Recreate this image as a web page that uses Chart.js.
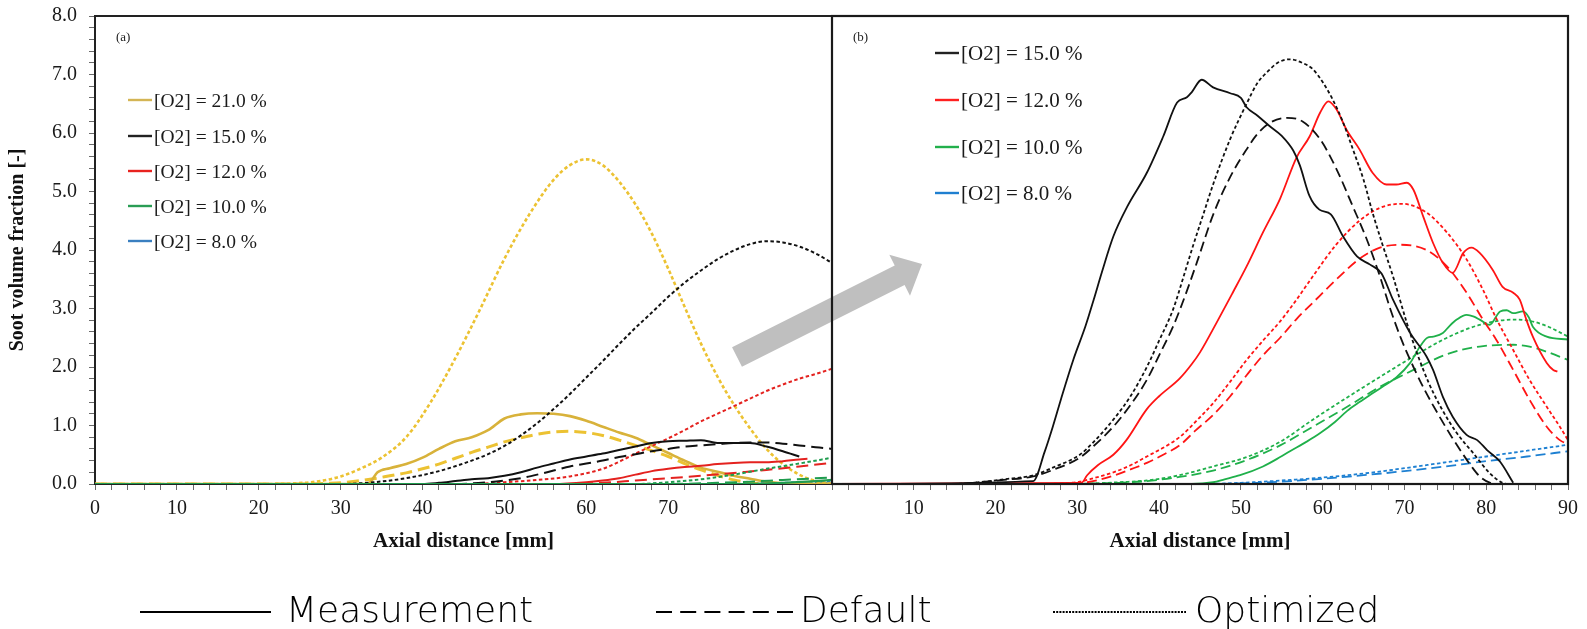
<!DOCTYPE html>
<html>
<head>
<meta charset="utf-8">
<script src="https://cdn.jsdelivr.net/npm/chart.js@4.4.1/dist/chart.umd.min.js"></script>
<style>
  html, body { margin: 0; padding: 0; background: #fff; }
  #wrap { position: relative; width: 1587px; height: 629px; background: #fff; overflow: hidden; }
  #wrap canvas { position: absolute; left: 0; top: 0; }
  #overlay { position: absolute; left: 0; top: 0; }
</style>
</head>
<body>
<div id="wrap">
  <canvas id="chartA" width="1587" height="629"></canvas>
  <canvas id="chartB" width="1587" height="629"></canvas>
  <svg id="overlay" width="1587" height="629" xmlns="http://www.w3.org/2000/svg"></svg>
</div>
<script>
// ---- Axes ----
const xMin = 0, xMax = 90, xStep = 2;       // axial distance [mm]
const yMin = 0, yMax = 8, yStep = 0.2;      // soot volume fraction [-]

// ---- Legend labels ----
const o2LevelsA = ['21.0', '15.0', '12.0', '10.0', '8.0'];
const o2LevelsB = ['15.0', '12.0', '10.0', '8.0'];
const modelKinds = ['Measurement', 'Default', 'Optimized'];

// ---- Panel (a): [axial distance, soot volume fraction] ----
const aGold21Meas = [[0,0],[33,0],[33.6,0.03],[34.5,0.2],[36,0.27],[38,0.34],[40,0.45],[42,0.6],[44,0.73],[46,0.8],[48,0.92],[50,1.12],[52,1.19],[54,1.21],[56,1.2],[58,1.16],[60,1.08],[62,0.98],[64,0.88],[66,0.79],[68,0.66],[70,0.53],[72,0.4],[74,0.28],[76,0.21],[78,0.14],[80,0.09],[82,0.04],[84,0.01],[86,0],[90,0]];
const aGold21Def  = [[0,0],[26,0],[28,0.01],[30,0.02],[32,0.05],[34,0.09],[36,0.14],[38,0.19],[40,0.26],[42,0.34],[44,0.44],[46,0.54],[48,0.63],[50,0.72],[52,0.79],[54,0.85],[56,0.89],[58,0.9],[60,0.88],[62,0.83],[64,0.75],[66,0.66],[68,0.57],[70,0.47],[72,0.35],[74,0.24],[76,0.15],[78,0.07],[80,0.02],[82,0],[90,0]];
const aGold21Opt  = [[0,0],[20,0],[24,0.01],[27,0.04],[30,0.13],[33,0.3],[35,0.45],[38,0.8],[41,1.4],[44,2.15],[47,2.98],[50,3.85],[53,4.6],[56,5.2],[58,5.45],[60,5.55],[62,5.45],[64,5.17],[66,4.78],[68,4.28],[70,3.68],[72,3.03],[74,2.4],[76,1.84],[78,1.36],[80,0.95],[82,0.6],[84,0.34],[86,0.16],[88,0.05],[90,0]];
const aBlack15Meas = [[0,0],[40,0],[42,0.02],[44,0.05],[46,0.08],[48,0.1],[50,0.14],[52,0.2],[54,0.28],[56,0.35],[58,0.42],[60,0.47],[62,0.52],[64,0.58],[66,0.64],[68,0.7],[70,0.73],[72,0.74],[74,0.75],[76,0.7],[78,0.7],[80,0.7],[82,0.64],[84,0.56],[86,0.47]];
const aBlack15Def  = [[0,0],[44,0],[48,0.03],[50,0.06],[52,0.1],[54,0.16],[56,0.23],[58,0.3],[60,0.35],[62,0.4],[64,0.46],[66,0.51],[68,0.56],[70,0.6],[72,0.64],[74,0.66],[76,0.68],[78,0.7],[80,0.71],[82,0.71],[84,0.69],[86,0.66],[88,0.63],[90,0.6]];
const aBlack15Opt  = [[0,0],[30,0],[34,0.03],[38,0.1],[42,0.22],[46,0.4],[48,0.51],[50,0.65],[52,0.83],[54,1.04],[56,1.28],[58,1.54],[60,1.82],[62,2.1],[64,2.39],[66,2.67],[68,2.93],[70,3.2],[72,3.44],[74,3.65],[76,3.84],[78,3.99],[80,4.1],[82,4.15],[84,4.13],[86,4.06],[88,3.94],[90,3.78]];
const aRed12Meas = [[0,0],[56,0],[60,0.03],[62,0.06],[64,0.1],[66,0.16],[68,0.22],[70,0.26],[72,0.29],[74,0.31],[76,0.34],[78,0.36],[80,0.37],[82,0.37],[84,0.39],[86,0.42],[87,0.43]];
const aRed12Def  = [[0,0],[58,0],[62,0.02],[66,0.06],[70,0.1],[74,0.14],[78,0.19],[82,0.24],[86,0.3],[90,0.36]];
const aRed12Opt  = [[0,0],[46,0],[50,0.03],[54,0.07],[58,0.13],[62,0.26],[64,0.38],[66,0.52],[68,0.65],[70,0.78],[72,0.92],[74,1.07],[76,1.2],[78,1.33],[80,1.46],[82,1.59],[84,1.7],[86,1.8],[88,1.88],[90,1.97]];
const aGreen10Meas = [[0,0],[80,0],[84,0.02],[88,0.05],[90,0.07]];
const aGreen10Def  = [[0,0],[70,0],[76,0.02],[80,0.04],[84,0.07],[90,0.11]];
const aGreen10Opt  = [[0,0],[66,0],[70,0.03],[74,0.08],[78,0.16],[82,0.26],[86,0.35],[90,0.45]];
const aBlue8Meas = [[0,0],[90,0]];
const aBlue8Def  = [[0,0],[80,0],[90,0.02]];
const aBlue8Opt  = [[0,0],[75,0],[90,0.04]];

// ---- Panel (b) ----
const bBlack15Meas = [[0,0],[24.6,0.05],[26,0.55],[27,0.98],[28,1.45],[29.5,2.12],[31,2.7],[32,3.15],[33,3.62],[34.4,4.23],[36.1,4.74],[38.5,5.32],[40.5,5.94],[42.2,6.52],[43.4,6.61],[44,6.7],[45.2,6.91],[46.6,6.78],[48.7,6.68],[50,6.6],[50.7,6.44],[52,6.3],[53.5,6.12],[55,5.95],[56.4,5.7],[57.2,5.45],[58.4,4.92],[59.6,4.69],[61,4.61],[62.5,4.23],[64.2,3.89],[65.8,3.75],[67.2,3.6],[68.6,3.15],[70.7,2.58],[72.7,2.18],[73.5,1.95],[74.7,1.49],[75.9,1.15],[77.6,0.84],[78.9,0.75],[80.1,0.58],[81.7,0.38],[83.3,0.02]];
const bBlack15Def  = [[0,0],[15,0],[18,0.03],[21,0.07],[24.6,0.13],[27,0.24],[30.3,0.45],[32,0.65],[34.4,0.98],[36.5,1.35],[38.5,1.78],[40,2.2],[41.7,2.69],[43,3.15],[44.6,3.78],[46.6,4.6],[48.7,5.25],[50.7,5.72],[52,5.98],[53.5,6.17],[55.6,6.26],[57.5,6.2],[59.7,5.89],[61.7,5.38],[63.7,4.74],[65.4,4.18],[67,3.55],[68.3,2.98],[69.6,2.48],[71.1,2.0],[72.5,1.6],[74.3,1.15],[75.8,0.8],[77.2,0.5],[78.2,0.3],[79.2,0.13],[80.5,0.02],[82,0],[90,0]];
const bBlack15Opt  = [[0,0],[15,0],[18,0.03],[21,0.08],[24.6,0.15],[27,0.28],[30.3,0.5],[32,0.72],[34.4,1.1],[36.5,1.5],[38.5,2.0],[40,2.45],[41.7,2.98],[43,3.55],[44.1,4.05],[45.5,4.65],[46.6,5.12],[48.7,5.9],[50.7,6.5],[52,6.85],[53.2,7.04],[54.5,7.2],[56,7.26],[57.5,7.2],[58.8,7.09],[60,6.87],[61.2,6.58],[62.5,6.18],[63.7,5.72],[65,5.2],[66.1,4.64],[67.3,4.1],[68.6,3.55],[70.3,2.75],[71.5,2.25],[73,1.72],[74.5,1.3],[76.4,0.87],[78.4,0.53],[80.4,0.19],[82,0.02],[83,0],[90,0]];
const bRed12Meas = [[0,0],[30.5,0.02],[31.2,0.15],[32.5,0.32],[34.4,0.5],[36,0.75],[38.5,1.28],[40,1.5],[42.5,1.8],[44,2.05],[45,2.25],[47,2.75],[49,3.27],[50.7,3.72],[52.7,4.3],[54.8,4.88],[56.8,5.58],[58.4,5.94],[59.7,6.35],[60.7,6.54],[61.7,6.4],[62.9,6.06],[64.5,5.72],[66.1,5.32],[67.8,5.12],[69,5.12],[70.3,5.15],[71.1,5.03],[72.3,4.57],[73.5,4.12],[74.7,3.78],[75.9,3.61],[77.2,3.95],[78.2,4.04],[79.2,3.95],[80.8,3.66],[82,3.37],[83.3,3.27],[84.1,3.15],[84.9,2.81],[85.7,2.52],[87.4,2.07],[88.2,1.95],[88.7,1.92]];
const bRed12Def  = [[0,0],[26,0],[29,0.01],[31.2,0.03],[34.4,0.14],[36.5,0.25],[38.5,0.36],[40.5,0.5],[42.5,0.66],[44.5,0.92],[46.6,1.18],[48.7,1.5],[50.7,1.86],[52.7,2.2],[54.8,2.5],[56.8,2.82],[58.8,3.1],[61.7,3.5],[64.5,3.85],[67,4.04],[69.4,4.09],[72.7,4.0],[75.2,3.72],[77.6,3.27],[79.6,2.81],[81.3,2.45],[83.3,1.95],[85.3,1.44],[87.4,0.98],[89,0.75],[90,0.68]];
const bRed12Opt  = [[0,0],[25,0],[28,0.01],[30.3,0.04],[32,0.1],[34.4,0.2],[36.5,0.32],[38.5,0.47],[40.5,0.62],[42.5,0.8],[44.5,1.07],[46.6,1.38],[48.7,1.75],[50.7,2.12],[52.7,2.45],[54.8,2.78],[56.8,3.15],[58.8,3.55],[61.7,4.1],[64.5,4.5],[67,4.72],[69.7,4.79],[72.7,4.64],[75.2,4.3],[77.6,3.84],[79.6,3.32],[81.3,2.81],[83.3,2.29],[85.3,1.78],[87.4,1.32],[89,0.98],[90,0.75]];
const bGreen10Meas = [[0,0],[44,0],[46.6,0.03],[48,0.08],[49.9,0.15],[52.7,0.3],[54.8,0.46],[56,0.56],[58,0.72],[59.7,0.87],[61.5,1.06],[63,1.25],[64.5,1.4],[66.1,1.55],[67.5,1.68],[69,1.82],[70.7,2.07],[71.9,2.35],[72.8,2.5],[73.5,2.52],[74.7,2.58],[75.5,2.7],[76.4,2.81],[77.6,2.89],[78.5,2.86],[79.2,2.81],[80.4,2.72],[81.7,2.95],[82.5,2.97],[83.3,2.92],[84.5,2.95],[85.2,2.85],[85.7,2.69],[87.4,2.52],[90,2.47]];
const bGreen10Def  = [[0,0],[28,0],[32,0.01],[35,0.02],[38.5,0.05],[42.5,0.12],[46.6,0.23],[50.7,0.41],[54.8,0.66],[58.8,0.98],[63,1.32],[67,1.66],[71.1,1.95],[75.2,2.22],[79.2,2.35],[83.3,2.38],[85.3,2.35],[87.4,2.26],[90,2.12]];
const bGreen10Opt  = [[0,0],[28,0],[32,0.01],[35,0.03],[38.5,0.06],[42.5,0.15],[46.6,0.3],[50.7,0.46],[54.8,0.72],[58.8,1.1],[63,1.48],[67,1.83],[71.1,2.18],[75.2,2.5],[79.2,2.72],[83.3,2.81],[85.3,2.79],[87.4,2.7],[90,2.52]];
const bBlue8Meas = [[0,0],[90,0]];
const bBlue8Def  = [[0,0],[45,0],[50,0.01],[55,0.04],[60,0.09],[65,0.15],[70,0.22],[75,0.3],[80,0.39],[85,0.47],[90,0.56]];
const bBlue8Opt  = [[0,0],[45,0],[50,0.02],[55,0.06],[60,0.11],[65,0.18],[70,0.27],[75,0.37],[80,0.47],[85,0.57],[90,0.67]];

// ---- Styling ----
const colA = { gold: '#d8b23a', goldLight: '#ecc232', black: '#111111', red: '#e4221f', green: '#1f9c4e', blue: '#2e7bc4' };
const colB = { black: '#111111', red: '#ff1414', green: '#1fb04a', blue: '#1e80d2' };
const serif = "'Liberation Serif', 'Times New Roman', serif";

function line(points, color, kind, width, dashes) {
  return {
    data: points.map(([x, y]) => ({ x, y })),
    borderColor: color,
    borderWidth: width,
    borderDash: kind === 'dash' ? dashes.dash : kind === 'dot' ? dashes.dot : [],
    pointRadius: 0,
    fill: false,
    cubicInterpolationMode: 'monotone',
    borderCapStyle: 'butt',
    borderJoinStyle: 'round'
  };
}

const dashA = { dash: [12, 6], dot: [3.5, 2.5] };
const dashB = { dash: [10, 5], dot: [3.5, 2.5] };

// first dataset is painted last (on top)
const datasetsA = [
  line(aGreen10Meas, colA.green, 'meas', 2.2, dashA),
  line(aGreen10Def, colA.green, 'dash', 2, dashA),
  line(aGreen10Opt, colA.green, 'dot', 2, dashA),
  line(aBlack15Meas, colA.black, 'meas', 2, dashA),
  line(aBlack15Def, colA.black, 'dash', 2, dashA),
  line(aBlack15Opt, colA.black, 'dot', 2, dashA),
  line(aRed12Meas, colA.red, 'meas', 2, dashA),
  line(aRed12Def, colA.red, 'dash', 2, dashA),
  line(aRed12Opt, colA.red, 'dot', 2, dashA),
  line(aGold21Meas, colA.gold, 'meas', 2.6, dashA),
  line(aGold21Def, colA.goldLight, 'dash', 3, dashA),
  line(aGold21Opt, colA.goldLight, 'dot', 2.6, dashA),
  line(aBlue8Meas, colA.blue, 'meas', 2, dashA),
  line(aBlue8Def, colA.blue, 'dash', 2, dashA),
  line(aBlue8Opt, colA.blue, 'dot', 2, dashA)
];

const datasetsB = [
  line(bBlue8Meas, colB.blue, 'meas', 2, dashB),
  line(bBlack15Meas, colB.black, 'meas', 1.8, dashB),
  line(bBlack15Def, colB.black, 'dash', 1.8, dashB),
  line(bBlack15Opt, colB.black, 'dot', 1.8, dashB),
  line(bRed12Meas, colB.red, 'meas', 1.8, dashB),
  line(bRed12Def, colB.red, 'dash', 1.8, dashB),
  line(bRed12Opt, colB.red, 'dot', 1.8, dashB),
  line(bGreen10Meas, colB.green, 'meas', 1.8, dashB),
  line(bGreen10Def, colB.green, 'dash', 1.8, dashB),
  line(bGreen10Opt, colB.green, 'dot', 1.8, dashB),
  line(bBlue8Def, colB.blue, 'dash', 1.8, dashB),
  line(bBlue8Opt, colB.blue, 'dot', 1.8, dashB)
];

const isWhole = v => Math.abs(v - Math.round(v)) < 1e-6;

function xScale(showLabel) {
  return {
    type: 'linear', min: xMin, max: xMax,
    ticks: {
      stepSize: xStep, autoSkip: false, maxRotation: 0, padding: 7,
      color: '#1a1a1a', font: { family: serif, size: 20 },
      callback: v => (isWhole(v / 10) && showLabel(v)) ? String(Math.round(v)) : ''
    },
    grid: { drawOnChartArea: false, drawTicks: true, tickLength: 6, color: '#6a6a6a', lineWidth: 1 },
    border: { display: true, color: '#222', width: 2 },
    title: {
      display: true, text: 'Axial distance [mm]', color: '#111',
      font: { family: serif, size: 21, weight: 'bold' },
      padding: { top: 0, bottom: 75 }
    },
    afterFit: s => { s.height = 145; s.paddingLeft = 0; s.paddingRight = 0; }
  };
}

const baseOptions = {
  responsive: false, animation: false, events: [],
  plugins: { legend: { display: false }, tooltip: { enabled: false } }
};

// Panel (a) frame: top edge of the box
const frameA = {
  id: 'frameA',
  afterDraw(chart) {
    const { ctx, chartArea: a } = chart;
    ctx.save();
    ctx.strokeStyle = '#222';
    ctx.lineWidth = 2;
    ctx.beginPath();
    ctx.moveTo(a.left - 1, a.top);
    ctx.lineTo(a.right + 1, a.top);
    ctx.stroke();
    ctx.restore();
  }
};

new Chart(document.getElementById('chartA'), {
  type: 'line',
  data: { datasets: datasetsA },
  options: {
    ...baseOptions,
    layout: { padding: { left: 0, top: 16, right: 755, bottom: 0 } },
    scales: {
      x: xScale(v => v < 85),
      y: {
        type: 'linear', min: yMin, max: yMax,
        ticks: {
          stepSize: yStep, autoSkip: false, padding: 12,
          color: '#1a1a1a', font: { family: serif, size: 20 },
          callback: v => isWhole(v) ? Number(v).toFixed(1) : ''
        },
        grid: { drawOnChartArea: false, drawTicks: true, tickLength: 6, color: '#6a6a6a', lineWidth: 1 },
        border: { display: true, color: '#222', width: 2 },
        title: {
          display: true, text: 'Soot volume fraction [-]', color: '#111',
          font: { family: serif, size: 20, weight: 'bold' },
          padding: { top: 6, bottom: 0 }
        },
        afterFit: s => { s.width = 95; s.paddingTop = 0; s.paddingBottom = 0; }
      }
    }
  },
  plugins: [frameA]
});

// Panel (b): white box over panel (a), zoom arrow, frame
const panelB = {
  id: 'panelB',
  beforeDraw(chart) {
    const { ctx, chartArea: a } = chart;
    ctx.save();
    ctx.fillStyle = '#fff';
    ctx.fillRect(a.left, a.top, a.right - a.left, a.bottom - a.top);
    ctx.restore();
  },
  afterDraw(chart) {
    const { ctx, chartArea: a } = chart;
    // zoom arrow from panel (a) into panel (b)
    const tail = [737, 357], tip = [922, 264];
    const dx = tip[0] - tail[0], dy = tip[1] - tail[1];
    const len = Math.hypot(dx, dy);
    const ux = dx / len, uy = dy / len, nx = -uy, ny = ux;
    const bodyHalf = 11, headHalf = 23, headLen = 25;
    const bx = tip[0] - ux * headLen, by = tip[1] - uy * headLen;
    ctx.save();
    ctx.fillStyle = '#bfbfbf';
    ctx.beginPath();
    ctx.moveTo(tail[0] + nx * bodyHalf, tail[1] + ny * bodyHalf);
    ctx.lineTo(bx + nx * bodyHalf, by + ny * bodyHalf);
    ctx.lineTo(bx + nx * headHalf, by + ny * headHalf);
    ctx.lineTo(tip[0], tip[1]);
    ctx.lineTo(bx - nx * headHalf, by - ny * headHalf);
    ctx.lineTo(bx - nx * bodyHalf, by - ny * bodyHalf);
    ctx.lineTo(tail[0] - nx * bodyHalf, tail[1] - ny * bodyHalf);
    ctx.closePath();
    ctx.fill();
    ctx.strokeStyle = '#1a1a1a';
    ctx.lineWidth = 2.2;
    ctx.strokeRect(a.left, a.top, a.right - a.left, a.bottom - a.top);
    ctx.restore();
  }
};

new Chart(document.getElementById('chartB'), {
  type: 'line',
  data: { datasets: datasetsB },
  options: {
    ...baseOptions,
    layout: { padding: { left: 832, top: 16, right: 19, bottom: 0 } },
    scales: {
      x: xScale(v => v > 5),
      y: { type: 'linear', min: yMin, max: yMax, display: false }
    }
  },
  plugins: [panelB]
});

// ---- Legends and panel tags (SVG text) ----
const svg = document.getElementById('overlay');
const NS = 'http://www.w3.org/2000/svg';
function el(name, attrs, text) {
  const e = document.createElementNS(NS, name);
  for (const k in attrs) e.setAttribute(k, attrs[k]);
  if (text !== undefined) e.textContent = text;
  svg.appendChild(e);
  return e;
}

function panelLegend(levels, colors, x0, rows, size) {
  levels.forEach((lv, i) => {
    const y = rows[i];
    el('line', { x1: x0, y1: y, x2: x0 + 24, y2: y, stroke: colors[i], 'stroke-width': 2.4 });
    el('text', { x: x0 + 26, y: y + 7, 'font-family': serif, 'font-size': size, fill: '#1a1a1a' }, `[O2] = ${lv} %`);
  });
}
panelLegend(o2LevelsA, ['#d4b555', '#222', '#e8231f', '#2a9d55', '#3a7fc0'], 128, [100, 136, 171, 206, 241], 19.5);
panelLegend(o2LevelsB, ['#222', '#ff2020', '#22b04c', '#1f7fd0'], 935, [53, 100, 147, 193], 21);

el('text', { x: 116, y: 41, 'font-family': serif, 'font-size': 13, fill: '#222' }, '(a)');
el('text', { x: 853, y: 41, 'font-family': serif, 'font-size': 13, fill: '#222' }, '(b)');

// bottom legend: line style of each data source
const keyY = 612;
const keyItems = [
  { x1: 140, x2: 271, dash: '', tx: 286 },
  { x1: 656, x2: 793, dash: '16 8.2', tx: 800 },
  { x1: 1053, x2: 1186, dash: '2 1.2', tx: 1195 }
];
keyItems.forEach((k, i) => {
  el('line', { x1: k.x1, y1: keyY, x2: k.x2, y2: keyY, stroke: '#000', 'stroke-width': 2, 'stroke-dasharray': k.dash });
  el('text', { x: k.tx, y: 622, 'font-family': "'DejaVu Sans', sans-serif", 'font-weight': 200, 'font-size': 36, fill: '#000' }, modelKinds[i]);
});
</script>
</body>
</html>
